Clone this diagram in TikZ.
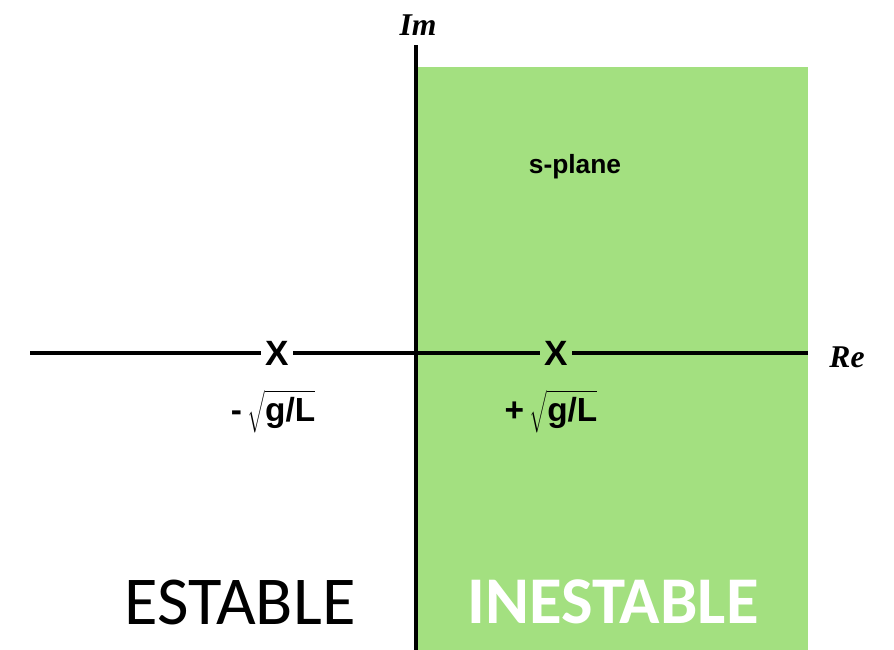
\documentclass[tikz,border=0pt]{standalone}
\usepackage{fontspec}
\setmainfont{Liberation Sans}
\newfontfamily\axisfont{Liberation Serif}
\newfontfamily\zonefont{Carlito}
\usetikzlibrary{positioning}
\definecolor{PlaneGreen}{HTML}{A3E080}

\begin{document}
\begin{tikzpicture}
      \tikzstyle{axis}=[line width=2.2pt]
      \tikzstyle{pole}=[inner sep=2.5pt,font=\bfseries\fontsize{20}{20}\selectfont]
      \tikzstyle{polelabel}=[font=\bfseries\fontsize{15}{15}\selectfont]
      \tikzstyle{rootlabel}=[font=\bfseries\fontsize{19}{19}\selectfont]
      \tikzstyle{axislabel}=[font=\axisfont\bfseries\itshape\fontsize{18}{18}\selectfont]
      \tikzstyle{zone}=[font=\zonefont\fontsize{39}{39}\selectfont]
      \useasboundingbox (0,0) rectangle (17.88,13);
      \fill[PlaneGreen] (8.36,0) rectangle (16.16,11.66);
      % axes
      \coordinate (o) at (8.32,5.94);
      \coordinate (left) at (0.6,5.94);
      \coordinate (right) at (16.16,5.94);
      \coordinate (bot) at (8.32,0);
      \coordinate (top) at (8.32,12.1);
      \node[pole] (p1) at (5.54,5.94) {X};
      \node[pole] (p2) at (11.12,5.94) {X};
      \draw[axis] (bot) -- (top);
      \draw[axis] (left) -- (p1);
      \draw[axis] (p1) -- (o) -- (p2);
      \draw[axis] (p2) -- (right);
      \node[axislabel] (im) at (8.36,12.5) {Im};
      \node[axislabel] (re) at (16.94,5.86) {Re};
      \node[rootlabel] (l1) at (5.46,4.76) {-\,$\sqrt{\textbf{g/L}}$};
      \node[rootlabel] (l2) at (11.02,4.76) {+\,$\sqrt{\textbf{g/L}}$};
      \node[polelabel] (plane) at (11.5,9.66) {s-plane};
      \node[zone] (st) at (4.8,0.96) {ESTABLE};
      \node[zone,text=white,font=\zonefont\bfseries\fontsize{38}{38}\selectfont] (ust) at (12.26,0.96) {INESTABLE};
    \end{tikzpicture}
\end{document}
